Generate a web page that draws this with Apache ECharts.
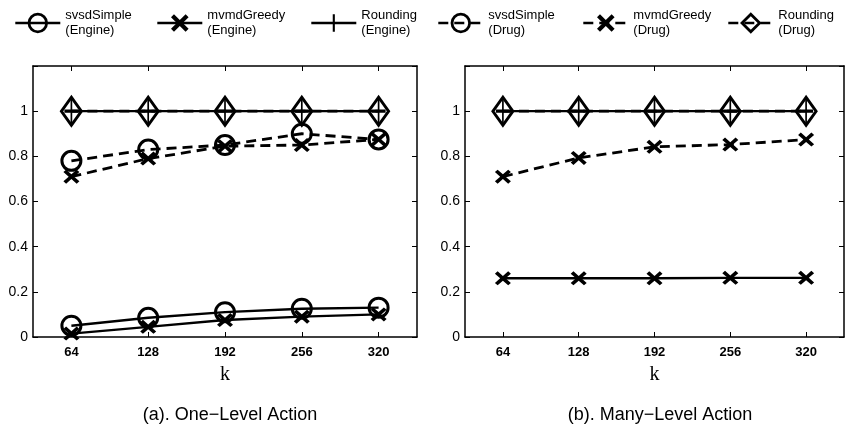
<!DOCTYPE html>
<html>
<head>
<meta charset="utf-8">
<script src="https://cdn.jsdelivr.net/npm/echarts@6/dist/echarts.min.js"></script>
<style>
  html, body { margin: 0; padding: 0; background: #fff; }
  #chart { width: 857px; height: 431px; }
</style>
</head>
<body>
<div id="chart"></div>
<script>
// k values on x axis
var kValues = [64, 128, 192, 256, 320];
var yTicks = [0, 0.2, 0.4, 0.6, 0.8, 1];

// (a) One-Level Action
var svsdEngineA = [0.05, 0.085, 0.11, 0.125, 0.13];
var mvmdEngineA = [0.015, 0.045, 0.075, 0.09, 0.1];
var roundEngineA = [1, 1, 1, 1, 1];
var svsdDrugA = [0.78, 0.83, 0.85, 0.9, 0.875];
var mvmdDrugA = [0.71, 0.79, 0.845, 0.85, 0.875];
var roundDrugA = [1, 1, 1, 1, 1];

// (b) Many-Level Action (no svsdSimple here)
var mvmdEngineB = [0.26, 0.26, 0.26, 0.262, 0.262];
var roundEngineB = [1, 1, 1, 1, 1];
var mvmdDrugB = [0.71, 0.793, 0.842, 0.852, 0.874];
var roundDrugB = [1, 1, 1, 1, 1];

var names = ['svsdSimple (Engine)', 'mvmdGreedy (Engine)', 'Rounding (Engine)',
             'svsdSimple (Drug)', 'mvmdGreedy (Drug)', 'Rounding (Drug)'];
var titles = ['(a). One\u2212Level Action', '(b). Many\u2212Level Action'];

var X_PATH = 'path://M0,1.7L1.7,0L5,3.3L8.3,0L10,1.7L6.7,5L10,8.3L8.3,10L5,6.7L1.7,10L0,8.3L3.3,5Z';
var PLUS_PATH = 'path://M4.4,0H5.6V4.4H10V5.6H5.6V10H4.4V5.6H0V4.4H4.4Z';

function pairs(vals) {
	return vals.map(function (v, i) { return [kValues[i], v]; });
}

function mark(kind) {
	if (kind == 'circle') return { symbol: 'circle', symbolSize: 19, itemStyle: { color: 'transparent', borderColor: '#000', borderWidth: 3 } };
	if (kind == 'x') return { symbol: X_PATH, symbolSize: [16, 14], itemStyle: { color: '#000', borderWidth: 0 } };
	if (kind == 'plus') return { symbol: PLUS_PATH, symbolSize: [14, 26], itemStyle: { color: '#000', borderWidth: 0 } };
	return { symbol: 'diamond', symbolSize: [20, 28], itemStyle: { color: 'transparent', borderColor: '#000', borderWidth: 3 } };
}

function makeSeries(idx, name, vals, kind, dashed) {
	var m = mark(kind);
	return {
		type: 'line', name: name, xAxisIndex: idx, yAxisIndex: idx,
		data: pairs(vals), symbol: m.symbol, symbolSize: m.symbolSize,
		itemStyle: m.itemStyle, showAllSymbol: true, animation: false,
		lineStyle: { color: '#000', width: dashed ? 2.8 : 2.4, type: dashed ? [10, 6] : 'solid' },
		emphasis: { disabled: true }
	};
}

function xAxis(idx, top) {
	return {
		type: 'value', gridIndex: idx, min: 32, max: 352, position: top ? 'top' : 'bottom',
		name: top ? '' : 'k', nameLocation: 'middle', nameGap: 28,
		nameTextStyle: { fontFamily: 'Liberation Serif', fontSize: 20, color: '#000' },
		axisLine: { show: true, onZero: false, lineStyle: { color: '#000', width: 1.5 } },
		axisTick: { show: true, inside: true, length: 5, customValues: kValues, lineStyle: { color: '#000' } },
		axisLabel: { show: !top, customValues: kValues, margin: 9, fontFamily: 'Liberation Sans', fontSize: 13, fontWeight: 'bold', color: '#000' },
		splitLine: { show: false }
	};
}

function yAxis(idx, right) {
	return {
		type: 'value', gridIndex: idx, min: 0, max: 1.2, interval: 0.2, position: right ? 'right' : 'left',
		axisLine: { show: true, onZero: false, lineStyle: { color: '#000', width: 1.5 } },
		axisTick: { show: true, inside: true, length: 5, lineStyle: { color: '#000' } },
		axisLabel: {
			show: !right, margin: 5, fontFamily: 'Liberation Sans', fontSize: 14, color: '#000',
			formatter: function (v) { return yTicks.indexOf(Math.round(v * 10) / 10) >= 0 ? String(Math.round(v * 10) / 10) : ''; }
		},
		splitLine: { show: false }
	};
}

var legendLeft = [14, 156, 310, 437, 582, 727];

function cal_option() {
	var series = [
		makeSeries(0, names[0], svsdEngineA, 'circle', false),
		makeSeries(0, names[1], mvmdEngineA, 'x', false),
		makeSeries(0, names[2], roundEngineA, 'plus', false),
		makeSeries(0, names[3], svsdDrugA, 'circle', true),
		makeSeries(0, names[4], mvmdDrugA, 'x', true),
		makeSeries(0, names[5], roundDrugA, 'diamond', true),
		makeSeries(1, names[1], mvmdEngineB, 'x', false),
		makeSeries(1, names[2], roundEngineB, 'plus', false),
		makeSeries(1, names[4], mvmdDrugB, 'x', true),
		makeSeries(1, names[5], roundDrugB, 'diamond', true)
	];
	var legends = names.map(function (n, i) {
		return {
			data: [n], left: legendLeft[i], top: 8, itemWidth: 45, itemHeight: 22, itemGap: 0,
			selectedMode: false, padding: 0,
			itemStyle: { borderWidth: 2.8 },
			lineStyle: { width: 2.6 },
			formatter: function (s) { return s.replace(' ', '\n'); },
			textStyle: { fontFamily: 'Liberation Sans', fontSize: 13, lineHeight: 15, color: '#000' }
		};
	});
	return {
		backgroundColor: '#fff',
		animation: false,
		legend: legends,
		title: [
			{ text: titles[0], left: 225, top: 401, textAlign: 'center', textStyle: { fontFamily: 'Liberation Sans', fontSize: 18, fontWeight: 'normal', color: '#000' } },
			{ text: titles[1], left: 655, top: 401, textAlign: 'center', textStyle: { fontFamily: 'Liberation Sans', fontSize: 18, fontWeight: 'normal', color: '#000' } }
		],
		grid: [
			{ left: 33, right: 440, top: 66, bottom: 94 },
			{ left: 465, right: 13, top: 66, bottom: 94 }
		],
		xAxis: [xAxis(0, false), xAxis(1, false), xAxis(0, true), xAxis(1, true)],
		yAxis: [yAxis(0, false), yAxis(1, false), yAxis(0, true), yAxis(1, true)],
		series: series
	};
}

var myChart = echarts.init(document.getElementById('chart'));
myChart.setOption(cal_option());
</script>
</body>
</html>
